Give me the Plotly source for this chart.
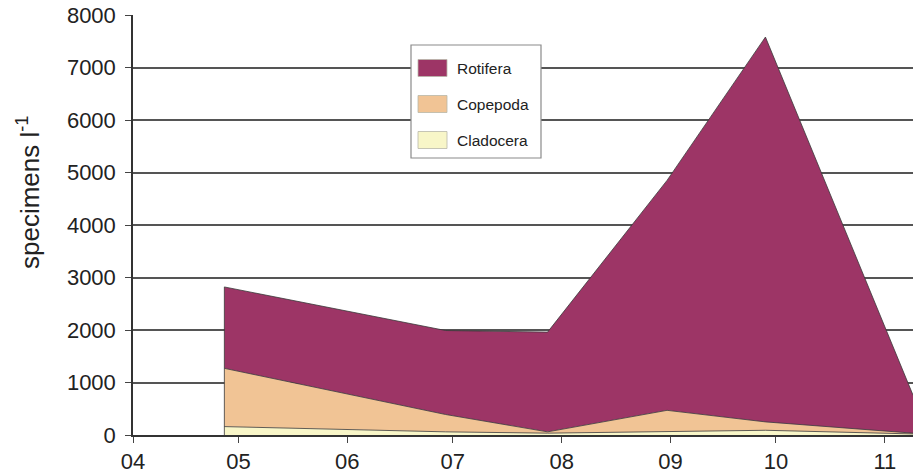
import plotly.graph_objects as go

# Sampling dates (one season) and abundances per group, specimens per litre
dates = ["2009-04-27", "2009-06-29", "2009-07-28", "2009-08-31", "2009-09-28", "2009-11-09"]
cladocera = [160, 60, 35, 65, 90, 20]
copepoda = [1110, 330, 25, 405, 160, 15]
rotifera = [1550, 1600, 1900, 4380, 7330, 725]

month_ticks = ["2009-04-01", "2009-05-01", "2009-06-01", "2009-07-01", "2009-08-01",
               "2009-09-01", "2009-10-01", "2009-11-01"]
month_labels = ["04", "05", "06", "07", "08", "09", "10", "11"]
y_ticks = [0, 1000, 2000, 3000, 4000, 5000, 6000, 7000, 8000]

groups = [
    ("Cladocera", cladocera, "#F8F6C8"),
    ("Copepoda", copepoda, "#F1C495"),
    ("Rotifera", rotifera, "#9D3566"),
]

FONT = "Liberation Sans, Arial, sans-serif"
EDGE = "#3a3a3a"

fig = go.Figure()
for name, vals, color in groups:
    fig.add_trace(go.Scatter(
        x=dates, y=vals, name=name, mode="lines",
        stackgroup="zoo", fillcolor=color,
        line=dict(color=EDGE, width=0.8),
        showlegend=False,
    ))

# closing edge of the stacked area at the first sampling date
first_total = cladocera[0] + copepoda[0] + rotifera[0]
fig.add_trace(go.Scatter(
    x=[dates[0], dates[0]], y=[0, first_total], mode="lines",
    line=dict(color=EDGE, width=0.8), showlegend=False, hoverinfo="skip",
))

# legend box and axis title placed in paper coordinates
shapes = []
annotations = []
W, H = 913, 474
L, T, B = 133, 15, 39
pw, ph = W - L, H - T - B


def px(x):
    return (x - L) / pw


def py(y):
    return 1 - (y - T) / ph


shapes.append(dict(type="rect", xref="paper", yref="paper",
                   x0=px(411), x1=px(541), y0=py(158), y1=py(45),
                   line=dict(color="#8a8a8a", width=1.2), fillcolor="white", layer="above"))
legend_rows = [("Rotifera", "#9D3566", 68), ("Copepoda", "#F1C495", 104), ("Cladocera", "#F8F6C8", 140)]
for label, color, yc in legend_rows:
    shapes.append(dict(type="rect", xref="paper", yref="paper",
                       x0=px(418), x1=px(447), y0=py(yc + 8.5), y1=py(yc - 8.5),
                       line=dict(color="#b8b8a8", width=0.8), fillcolor=color, layer="above"))
    annotations.append(dict(text=label, xref="paper", yref="paper",
                            x=px(455), y=py(yc), xanchor="left", yanchor="middle",
                            showarrow=False, font=dict(family=FONT, size=15.5, color="#222")))

annotations.append(dict(text="specimens l<sup>-1</sup>", xref="paper", yref="paper",
                        x=px(28), y=py(193), xanchor="center", yanchor="middle",
                        textangle=-90, showarrow=False,
                        font=dict(family=FONT, size=26, color="#222")))

fig.update_layout(
    width=W, height=H,
    margin=dict(l=L, r=0, t=T, b=B),
    paper_bgcolor="white", plot_bgcolor="white",
    showlegend=False,
    shapes=shapes, annotations=annotations,
    font=dict(family=FONT, color="#222"),
    xaxis=dict(
        type="date", range=["2009-04-01", "2009-11-09"],
        tickvals=month_ticks, ticktext=month_labels,
        ticks="outside", ticklen=6, tickcolor="#444", tickwidth=1.2,
        showline=True, linecolor="#333", linewidth=1.5,
        showgrid=False, zeroline=False,
        tickfont=dict(family=FONT, size=22, color="#222"),
    ),
    yaxis=dict(
        range=[0, 8000], tickvals=y_ticks,
        ticks="outside", ticklen=6, tickcolor="#444", tickwidth=1.2,
        showline=True, linecolor="#333", linewidth=1.5,
        showgrid=True, gridcolor="#555", gridwidth=1.5,
        zeroline=False, ticklabelstandoff=5,
        tickfont=dict(family=FONT, size=22, color="#222"),
    ),
)

fig.write_html("out.html")
